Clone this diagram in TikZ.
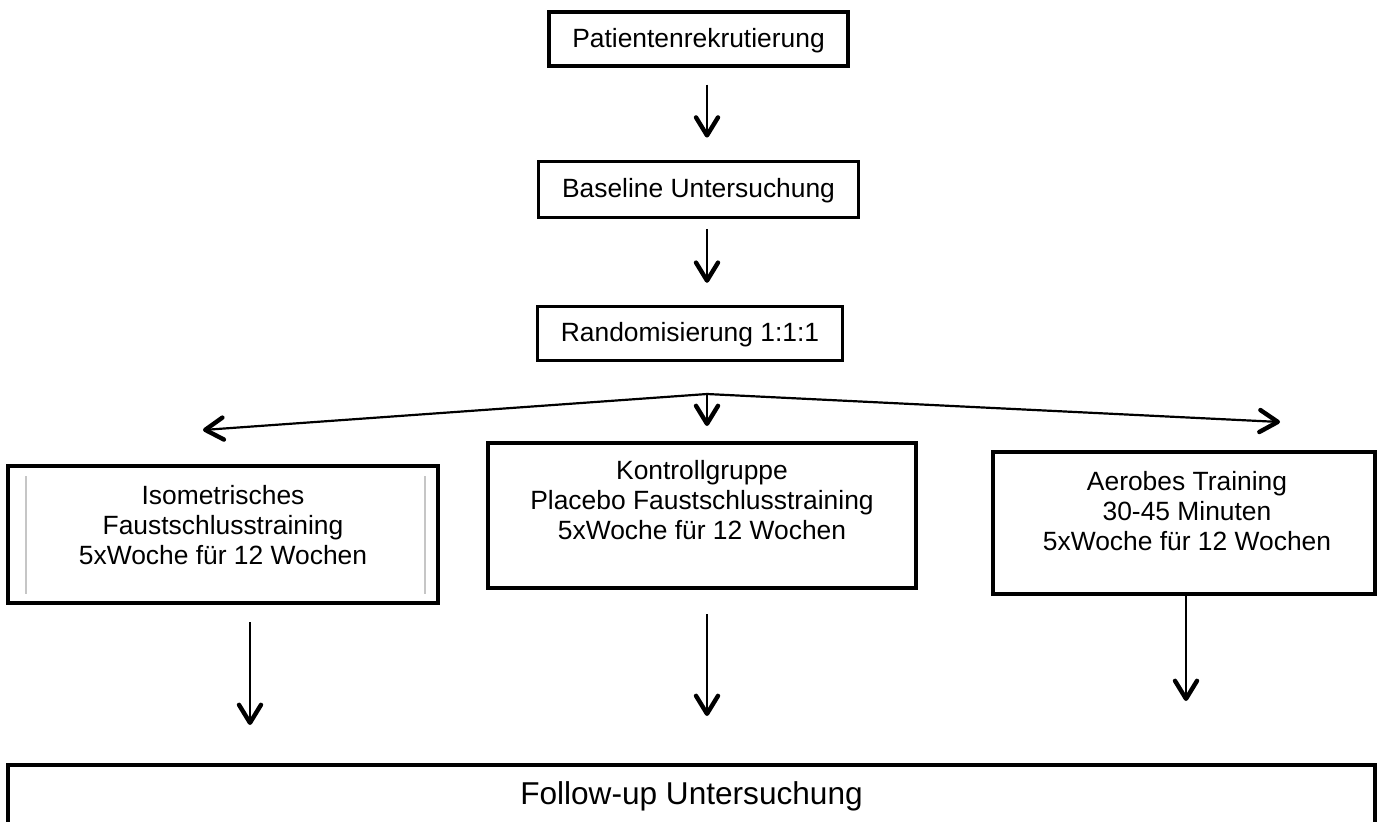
\documentclass[tikz,border=0pt]{standalone}
\usepackage{fontspec}
\setmainfont{Liberation Sans}
\usepackage{tikz}
\usetikzlibrary{arrows.meta, positioning, calc}
\newcommand{\boxfont}{\fontsize{13.2pt}{15pt}\selectfont}
\newcommand{\followfont}{\fontsize{15.8pt}{18pt}\selectfont}
\tikzstyle{stepbox} = [rectangle, draw=black, line width=1.6pt, minimum height=27pt, text height=10.5pt, text depth=2pt, font=\boxfont]
\tikzstyle{groupbox} = [rectangle, draw=black, line width=2pt]
\tikzstyle{grouptext} = [align=center, inner sep=0pt, font=\boxfont]
\tikzstyle{arrow} = [line width=1.1pt, -{Straight Barb[length=9pt, width=11pt, line width=2.2pt, round]}]

\begin{document}
\begin{tikzpicture}
    \useasboundingbox (0,0) rectangle (690pt,-410.5pt);

    % Enrolment column
    \node[stepbox, minimum width=149.5pt] (recruit) at (349.25pt,-19.5pt) {Patientenrekrutierung};
    \node[stepbox, below=46pt of recruit, minimum width=160pt, minimum height=28pt] (baseline) {Baseline Untersuchung};
    \node[stepbox, below=43pt of baseline, xshift=-4.25pt, minimum width=152.5pt] (random) {Randomisierung 1:1:1};
    \coordinate[below=16pt of random.south, xshift=8.5pt] (split);

    % Group row
    \node[groupbox, below=23.5pt of split, xshift=-2.5pt, minimum width=214pt, minimum height=72.5pt] (control) {};
    \node[groupbox, left=23pt of control, yshift=-9.5pt, minimum width=215pt, minimum height=68.5pt] (iso) {};
    \node[groupbox, right=36.5pt of control, yshift=-3.75pt, minimum width=191pt, minimum height=71pt] (aerob) {};

    \node[grouptext, below=10.5pt of iso.north] (isotext) {Isometrisches\\Faustschlusstraining\\5xWoche für 12 Wochen};
    \node[grouptext, below=9.5pt of control.north] (controltext) {Kontrollgruppe\\Placebo Faustschlusstraining\\5xWoche für 12 Wochen};
    \node[grouptext, below=10.5pt of aerob.north, xshift=1.5pt] (aerobtext) {Aerobes Training\\30-45 Minuten\\5xWoche für 12 Wochen};

    % thin grey rules inside the first group box
    \draw[gray!45, line width=0.6pt] ([xshift=10pt,yshift=-6pt]iso.north west) -- ([xshift=10pt,yshift=5.5pt]iso.south west);
    \draw[gray!45, line width=0.6pt] ([xshift=-7.5pt,yshift=-6pt]iso.north east) -- ([xshift=-7.5pt,yshift=5.5pt]iso.south east);

    % Follow-up
    \node[groupbox, below=86.5pt of control, xshift=-5.25pt, minimum width=683.5pt, minimum height=31.5pt, line width=1.8pt, font=\followfont] (follow) {Follow-up Untersuchung};

    % Arrows
    \draw[arrow] ([xshift=4.25pt,yshift=-8.5pt]recruit.south) -- ([xshift=4.25pt,yshift=11pt]baseline.north);
    \draw[arrow] ([xshift=4.25pt,yshift=-5pt]baseline.south) -- ([xshift=8.5pt,yshift=11pt]random.north);
    \draw[arrow] (split) -- ([xshift=-10pt,yshift=17pt]iso.north);
    \draw[arrow] (split) -- ([xshift=2.5pt,yshift=7.5pt]control.north);
    \draw[arrow] (split) -- ([xshift=48pt,yshift=14pt]aerob.north);
    \draw[arrow] ([xshift=13.5pt,yshift=-8.5pt]iso.south) -- ([xshift=-220.75pt,yshift=19pt]follow.north);
    \draw[arrow] ([xshift=2.5pt,yshift=-12pt]control.south) -- ([xshift=7.75pt,yshift=23.5pt]follow.north);
    \draw[arrow] ([xshift=1pt]aerob.south) -- ([xshift=247.25pt,yshift=31pt]follow.north);
\end{tikzpicture}
\end{document}
